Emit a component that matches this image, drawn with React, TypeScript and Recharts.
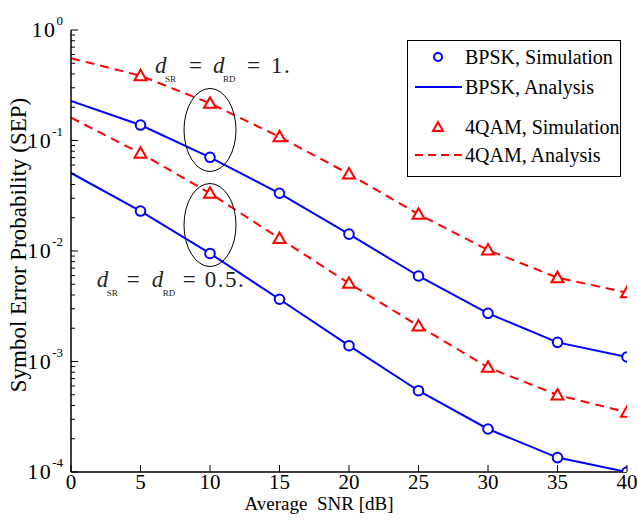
import React from "react";
import {
  LineChart,
  Line,
  XAxis,
  YAxis,
  Legend,
  Label,
  ReferenceDot,
} from "recharts";

// SNR grid (dB) and the four SEP curves
const snr = [0, 5, 10, 15, 20, 25, 30, 35, 40];
const bpskD1 = [0.228, 0.138, 0.0705, 0.0333, 0.0142, 0.00594, 0.00273, 0.00149, 0.0011];
const bpskD05 = [0.0508, 0.023, 0.0095, 0.00366, 0.00139, 0.000544, 0.000245, 0.000135, 0.0001];
const qamD1 = [0.555, 0.386, 0.217, 0.108, 0.0498, 0.0215, 0.0102, 0.00574, 0.0042];
const qamD05 = [0.161, 0.0766, 0.0333, 0.013, 0.0051, 0.0021, 0.000885, 0.000498, 0.000347];

// simulation markers (no marker at 0 dB)
const bpskSimD1 = [null, 0.138, 0.0705, 0.0333, 0.0142, 0.00594, 0.00273, 0.00149, 0.0011];
const bpskSimD05 = [null, 0.023, 0.0095, 0.00366, 0.00139, 0.000544, 0.000245, 0.000135, 0.0001];
const qamSimD1 = [null, 0.386, 0.217, 0.108, 0.0498, 0.0215, 0.0102, 0.00574, 0.0042];
const qamSimD05 = [null, 0.0766, 0.0333, 0.013, 0.0051, 0.0021, 0.000885, 0.000498, 0.000347];

const decadeTicks = [1e-4, 1e-3, 1e-2, 1e-1, 1];
const decadeExp = ["-4", "-3", "-2", "-1", "0"];
const minorSteps = [2, 3, 4, 5, 6, 7, 8, 9];

const BLUE = "#0000ff";
const RED = "#ff0000";
const FONT = '"Liberation Serif", "Times New Roman", serif';

const rows = snr.map((s, i) => ({
  snr: s,
  bA1: bpskD1[i],
  bA05: bpskD05[i],
  qA1: qamD1[i],
  qA05: qamD05[i],
  bS1: bpskSimD1[i],
  bS05: bpskSimD05[i],
  qS1: qamSimD1[i],
  qS05: qamSimD05[i],
}));

const yTicks: number[] = [];
decadeTicks.forEach((d, i) => {
  yTicks.push(d);
  if (i < decadeTicks.length - 1) minorSteps.forEach((m) => yTicks.push(d * m));
});

const isMajor = (v: number) => decadeTicks.some((d) => Math.abs(v - d) < d * 1e-6);

function LeftTick(props: any) {
  const { x, y, payload } = props;
  const major = isMajor(payload.value);
  const idx = decadeTicks.findIndex((d) => Math.abs(payload.value - d) < d * 1e-6);
  return (
    <g>
      <line x1={x} x2={x + (major ? 7 : 4)} y1={y} y2={y} stroke="#000" strokeWidth={1} />
      {major && (
        <text x={x - 8} y={y + 7} textAnchor="end" fontFamily={FONT} fontSize={22} fill="#000">
          <tspan letterSpacing={1.5}>10</tspan>
          <tspan dy={-12} fontSize={13}>
            {decadeExp[idx]}
          </tspan>
        </text>
      )}
    </g>
  );
}

function RightTick(props: any) {
  const { x, y, payload } = props;
  const major = isMajor(payload.value);
  return <line x1={x} x2={x - (major ? 7 : 4)} y1={y} y2={y} stroke="#000" strokeWidth={1} />;
}

function BottomTick(props: any) {
  const { x, y, payload } = props;
  return (
    <g>
      <line x1={x} x2={x} y1={y} y2={y - 7} stroke="#000" strokeWidth={1} />
      <text x={x} y={y + 17} textAnchor="middle" fontFamily={FONT} fontSize={21} fill="#000">
        {payload.value}
      </text>
    </g>
  );
}

function TopTick(props: any) {
  const { x, y } = props;
  return <line x1={x} x2={x} y1={y} y2={y + 7} stroke="#000" strokeWidth={1} />;
}

function circleDot(p: any) {
  if (p.cy == null || p.value == null) return <g key={p.key} />;
  return <circle key={p.key} cx={p.cx} cy={p.cy} r={4.8} fill="#fff" stroke={BLUE} strokeWidth={2} />;
}

function triangleDot(p: any) {
  if (p.cy == null || p.value == null) return <g key={p.key} />;
  const { cx, cy } = p;
  return (
    <path
      key={p.key}
      d={`M${cx},${cy - 6} L${cx + 6},${cy + 4.5} L${cx - 6},${cy + 4.5} Z`}
      fill="#fff"
      stroke={RED}
      strokeWidth={2}
    />
  );
}

const ellipseShape = (p: any) => (
  <ellipse cx={p.cx} cy={p.cy} rx={26} ry={41.5} fill="none" stroke="#000" strokeWidth={1} />
);

const annotShape = (parts: [number, string, boolean][]) => (p: any) => (
  <text fontFamily={FONT} fill="#222">
    {parts.map(([dx, t, sub], i) =>
      sub ? (
        <tspan key={i} x={p.cx + dx} y={p.cy + 9} fontSize={9}>
          {t}
        </tspan>
      ) : (
        <tspan
          key={i}
          x={p.cx + dx}
          y={p.cy}
          fontSize={23}
          letterSpacing={t === "d" ? 0 : 1.5}
          fontStyle={t === "d" ? "italic" : "normal"}
        >
          {t}
        </tspan>
      )
    )}
  </text>
);

function LegendBox() {
  const entries = [
    { y: 17, label: "BPSK, Simulation", kind: "circle" },
    { y: 47, label: "BPSK, Analysis", kind: "solid" },
    { y: 87, label: "4QAM, Simulation", kind: "tri" },
    { y: 115, label: "4QAM, Analysis", kind: "dash" },
  ];
  return (
    <svg width={214} height={137} style={{ display: "block", background: "#fff" }}>
      <rect x={0.5} y={0.5} width={213} height={136} fill="#fff" stroke="#000" strokeWidth={1} />
      {entries.map((e) => (
        <g key={e.label}>
          {e.kind === "circle" && (
            <circle cx={31} cy={e.y} r={4} fill="#fff" stroke={BLUE} strokeWidth={2} />
          )}
          {e.kind === "tri" && (
            <path
              d={`M31,${e.y - 5} L36,${e.y + 4} L26,${e.y + 4} Z`}
              fill="#fff"
              stroke={RED}
              strokeWidth={2}
            />
          )}
          {e.kind === "solid" && <line x1={8} x2={55} y1={e.y} y2={e.y} stroke={BLUE} strokeWidth={2} />}
          {e.kind === "dash" && (
            <line x1={8} x2={55} y1={e.y} y2={e.y} stroke={RED} strokeWidth={2} strokeDasharray="8 5" />
          )}
          <text x={58} y={e.y + 7} fontFamily={FONT} fontSize={20} fill="#000">
            {e.label}
          </text>
        </g>
      ))}
    </svg>
  );
}

export default function App() {
  return (
    <div
      style={{
        position: "absolute",
        left: 0,
        top: 0,
        width: 638,
        height: 528,
        background: "#fff",
        fontFamily: FONT,
      }}
    >
      <LineChart width={638} height={528} data={rows} margin={{ top: 30, right: 11, bottom: 0, left: 6 }}>
        <XAxis
          xAxisId="b"
          dataKey="snr"
          type="number"
          domain={[0, 40]}
          ticks={snr}
          interval={0}
          height={56}
          tickSize={0}
          tickMargin={0}
          tickLine={false}
          axisLine={{ stroke: "#000", strokeWidth: 1.5 }}
          tick={<BottomTick />}
          allowDataOverflow
        >
          <Label
            content={(lp: any) => (
              <text
                x={lp.viewBox.x + lp.viewBox.width / 2 - 30}
                y={lp.viewBox.y + 38}
                textAnchor="middle"
                fontFamily={FONT}
                fontSize={19}
                fill="#000"
                style={{ whiteSpace: "pre" }}
              >
                {"Average  SNR [dB]"}
              </text>
            )}
          />
        </XAxis>
        <XAxis
          xAxisId="t"
          orientation="top"
          dataKey="snr"
          type="number"
          domain={[0, 40]}
          ticks={snr}
          interval={0}
          height={0}
          tickSize={0}
          tickMargin={0}
          tickLine={false}
          axisLine={{ stroke: "#000", strokeWidth: 1.5 }}
          tick={<TopTick />}
          allowDataOverflow
        />
        <YAxis
          yAxisId="l"
          scale="log"
          domain={[1e-4, 1]}
          ticks={yTicks}
          interval={0}
          width={65}
          tickSize={0}
          tickMargin={0}
          tickLine={false}
          axisLine={{ stroke: "#000", strokeWidth: 1.5 }}
          tick={<LeftTick />}
          allowDataOverflow
        >
          <Label
            content={(lp: any) => {
              const cx = lp.viewBox.x + 12;
              const cy = lp.viewBox.y + lp.viewBox.height / 2 - 6;
              return (
                <text
                  x={cx}
                  y={cy}
                  transform={`rotate(-90 ${cx} ${cy})`}
                  textAnchor="middle"
                  dominantBaseline="central"
                  fontFamily={FONT}
                  fontSize={23}
                  fill="#000"
                >
                  Symbol Error Probability (SEP)
                </text>
              );
            }}
          />
        </YAxis>
        <YAxis
          yAxisId="r"
          orientation="right"
          scale="log"
          domain={[1e-4, 1]}
          ticks={yTicks}
          interval={0}
          width={0}
          tickSize={0}
          tickMargin={0}
          tickLine={false}
          axisLine={{ stroke: "#000", strokeWidth: 1.5 }}
          tick={<RightTick />}
          allowDataOverflow
        />

        <ReferenceDot xAxisId="b" yAxisId="l" x={10} y={0.1245} shape={ellipseShape} />
        <ReferenceDot xAxisId="b" yAxisId="l" x={10} y={0.01718} shape={ellipseShape} />
        <ReferenceDot
          xAxisId="b"
          yAxisId="l"
          x={6.04}
          y={0.411}
          shape={annotShape([
            [0, "d", false],
            [10, "SR", true],
            [34, "=", false],
            [58, "d", false],
            [68, "RD", true],
            [92, "=", false],
            [116, "1.", false],
          ])}
        />
        <ReferenceDot
          xAxisId="b"
          yAxisId="l"
          x={1.85}
          y={0.004753}
          shape={annotShape([
            [0, "d", false],
            [10, "SR", true],
            [30, "=", false],
            [55, "d", false],
            [66, "RD", true],
            [86, "=", false],
            [108, "0.5.", false],
          ])}
        />

        <Line xAxisId="b" yAxisId="l" dataKey="qA1" stroke={RED} strokeWidth={2} strokeDasharray="9 6" dot={false} isAnimationActive={false} />
        <Line xAxisId="b" yAxisId="l" dataKey="qA05" stroke={RED} strokeWidth={2} strokeDasharray="9 6" dot={false} isAnimationActive={false} />
        <Line xAxisId="b" yAxisId="l" dataKey="bA1" stroke={BLUE} strokeWidth={2} dot={false} isAnimationActive={false} />
        <Line xAxisId="b" yAxisId="l" dataKey="bA05" stroke={BLUE} strokeWidth={2} dot={false} isAnimationActive={false} />
        <Line xAxisId="b" yAxisId="l" dataKey="qS1" stroke="none" dot={triangleDot} isAnimationActive={false} />
        <Line xAxisId="b" yAxisId="l" dataKey="qS05" stroke="none" dot={triangleDot} isAnimationActive={false} />
        <Line xAxisId="b" yAxisId="l" dataKey="bS1" stroke="none" dot={circleDot} isAnimationActive={false} />
        <Line xAxisId="b" yAxisId="l" dataKey="bS05" stroke="none" dot={circleDot} isAnimationActive={false} />

        <Legend
          layout="vertical"
          align="center"
          verticalAlign="middle"
          wrapperStyle={{ top: 40, left: 407, width: 214, height: 137 }}
          content={() => <LegendBox />}
        />
      </LineChart>
    </div>
  );
}
